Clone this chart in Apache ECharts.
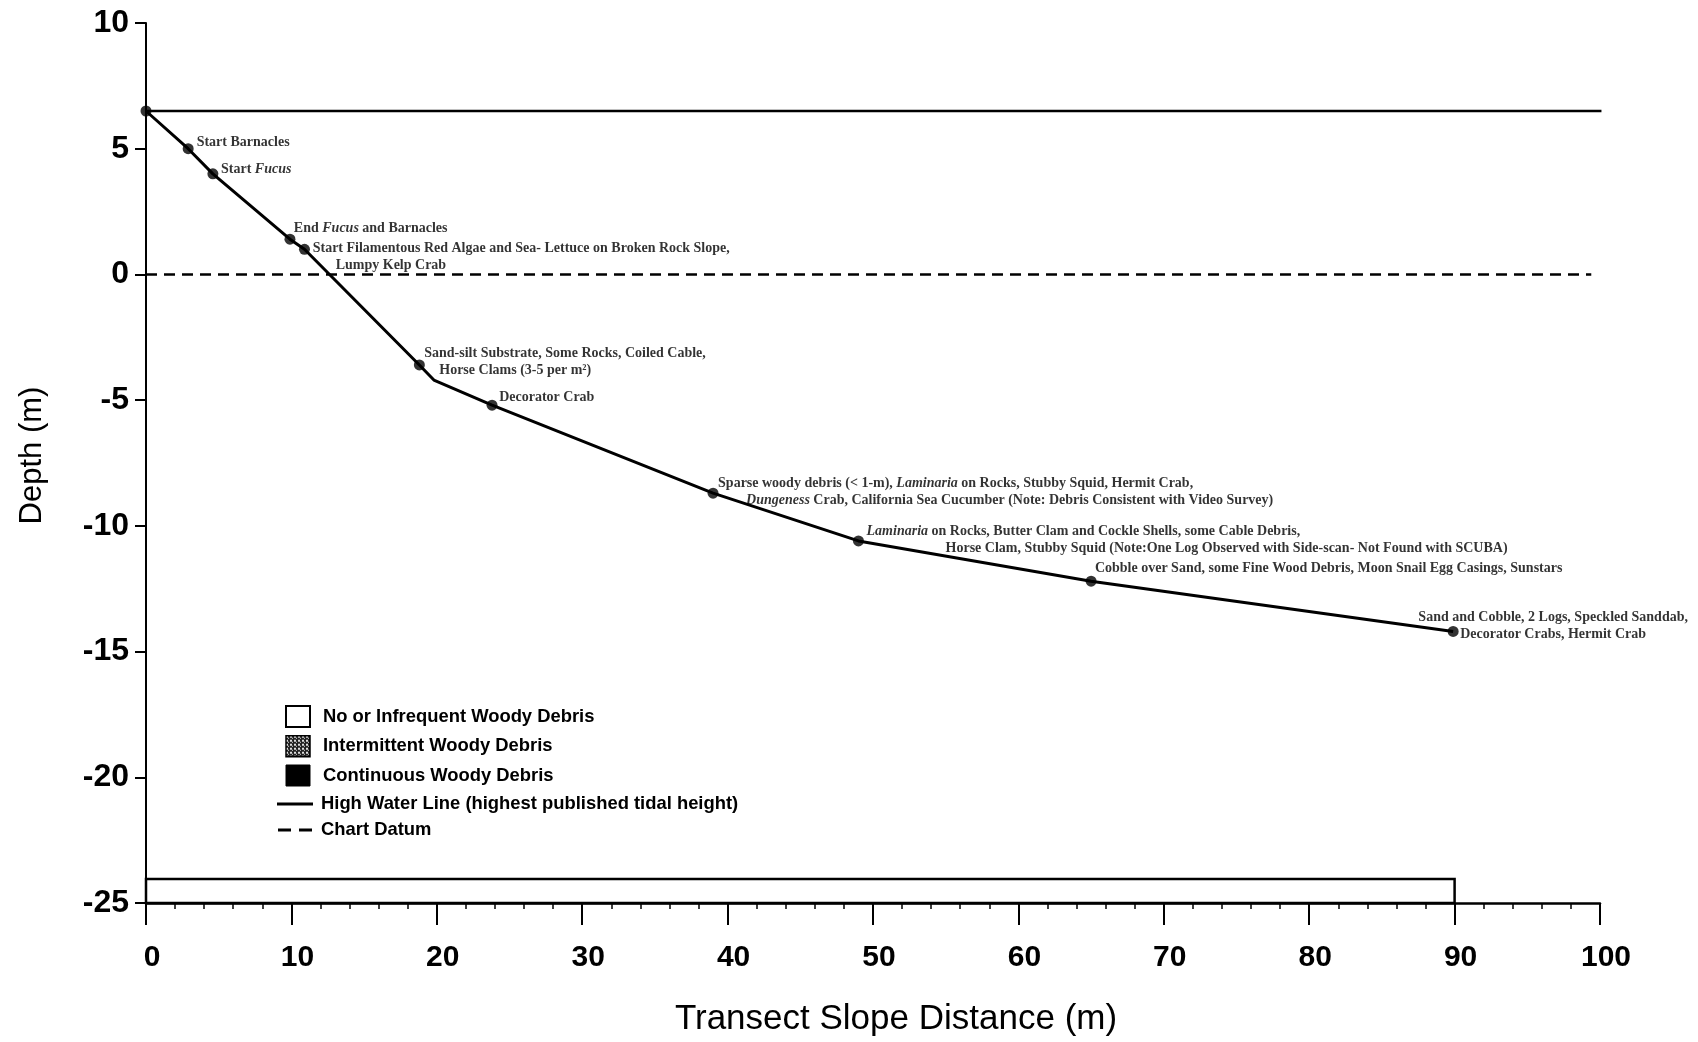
<!DOCTYPE html>
<html><head><meta charset="utf-8">
<script src="https://cdn.jsdelivr.net/npm/echarts@6/dist/echarts.min.js"></script>
<style>html,body{margin:0;padding:0;background:#fff}#c{width:1698px;height:1042px}</style>
</head><body><div id="c"></div>
<script>
// ---------------- data ----------------
const xTicks = [0, 10, 20, 30, 40, 50, 60, 70, 80, 90, 100];
const yTicks = [-25, -20, -15, -10, -5, 0, 5, 10];

const profileX = [0, 2.9, 4.6, 9.9, 10.9, 18.8, 19.8, 23.8, 39.0, 49.0, 65.0, 89.9];
const profileY = [6.5, 5.0, 4.0, 1.4, 1.0, -3.6, -4.2, -5.2, -8.7, -10.6, -12.2, -14.2];

const stationX = [0, 2.9, 4.6, 9.9, 10.9, 18.8, 23.8, 39.0, 49.0, 65.0, 89.9];
const stationY = [6.5, 5.0, 4.0, 1.4, 1.0, -3.6, -5.2, -8.7, -10.6, -12.2, -14.2];
const stationNotes = [
  "",
  "Start Barnacles",
  "Start _Fucus_",
  "End _Fucus_ and Barnacles",
  "Start Filamentous Red Algae and Sea- Lettuce on Broken Rock Slope,\nLumpy Kelp Crab",
  "Sand-silt Substrate, Some Rocks, Coiled Cable,\nHorse Clams (3-5 per m²)",
  "Decorator Crab",
  "Sparse woody debris (< 1-m), _Laminaria_ on Rocks, Stubby Squid, Hermit Crab,\n_Dungeness_ Crab, California Sea Cucumber (Note: Debris Consistent with Video Survey)",
  "_Laminaria_ on Rocks, Butter Clam and Cockle Shells, some Cable Debris,\nHorse Clam, Stubby Squid (Note:One Log Observed with Side-scan- Not Found with SCUBA)",
  "Cobble over Sand, some Fine Wood Debris, Moon Snail Egg Casings, Sunstars",
  "Sand and Cobble, 2 Logs, Speckled Sanddab,\nDecorator Crabs, Hermit Crab"
];

const highWaterLevel = 6.5;
const highWaterX = [0, 100.1];
const chartDatumLevel = 0;
const chartDatumX = [0, 99.4];

const debrisStart = [0];
const debrisEnd = [90];

const legendNames = [
  "No or Infrequent Woody Debris",
  "Intermittent Woody Debris",
  "Continuous Woody Debris",
  "High Water Line (highest published tidal height)",
  "Chart Datum"
];

// ---------------- styles ----------------
const DEBRIS_TOP = -24.05;
const labelOffsets = [[0,0],[3,-6.5],[2.6,-4.3],[-1.6,-10.8],[2.7,7.6],[-0.6,-3.3],[1.6,-7.5],[-0.5,-1.7],[2.6,-1.1],[-1.7,-13],[100,-5.5]];
const labelIndent = [0,0,0,0,23,15,0,28,79,0,0];
const centeredLabel = [false,false,false,false,false,false,false,false,false,false,true];

const serif = "'Liberation Serif','Times New Roman',serif";
const sans = "'Liberation Sans',Arial,sans-serif";

function richText(note, indent) {
  return note.split('\n').map((line, li) => {
    const parts = line.split('_');
    let s = (li > 0 && indent > 0) ? '{ind| }' : '';
    parts.forEach((p, k) => {
      if (p.length) s += (k % 2 ? '{i|' : '{n|') + p + '}';
    });
    return s;
  }).join('\n');
}

// pattern for intermittent debris
const pat = document.createElement('canvas');
pat.width = 4; pat.height = 4;
const pc = pat.getContext('2d');
pc.fillStyle = '#222'; pc.fillRect(0, 0, 4, 4);
pc.fillStyle = '#ddd'; pc.fillRect(0, 0, 2, 2); pc.fillRect(2, 2, 1, 1);

const stationData = stationX.map((x, i) => {
  const item = { value: [x, stationY[i]] };
  if (!stationNotes[i]) { item.label = { show: false }; return item; }
  const rich = {
    n: { fontFamily: serif, fontWeight: 'bold', fontSize: 14, lineHeight: 17, color: '#000' },
    i: { fontFamily: serif, fontWeight: 'bold', fontStyle: 'italic', fontSize: 14, lineHeight: 17, color: '#000' },
    ind: { width: labelIndent[i], fontSize: 14, lineHeight: 17 }
  };
  item.label = {
    show: true,
    position: centeredLabel[i] ? 'inside' : 'right',
    distance: 0,
    offset: labelOffsets[i],
    align: centeredLabel[i] ? 'center' : 'left',
    verticalAlign: 'middle',
    formatter: richText(stationNotes[i], labelIndent[i]),
    rich: rich
  };
  return item;
});

const solidIcon = 'path://M0,0 L36,0 L36,3 L0,3 Z';
const dashIcon = 'path://M0,0 L13,0 L13,3 L0,3 Z M21,0 L34,0 L34,3 L21,3 Z';

const chart = echarts.init(document.getElementById('c'), null, { renderer: 'canvas' });
chart.setOption({
  animation: false,
  backgroundColor: '#fff',
  grid: { left: 146, right: 98, top: 23, bottom: 138, containLabel: false },
  legend: [
    {
      orient: 'vertical', left: 280, top: 700,
      itemWidth: 24, itemHeight: 21, itemGap: 7,
      selectedMode: false,
      textStyle: { fontFamily: sans, fontWeight: 'bold', fontSize: 18.4, color: '#000', padding: [0, 0, 0, 8], lineHeight: 20 },
      data: [
        { name: legendNames[0], icon: 'rect', itemStyle: { color: '#fff', borderColor: '#000', borderWidth: 2 } },
        { name: legendNames[1], icon: 'rect', itemStyle: { color: { image: pat, repeat: 'repeat' }, borderColor: '#000', borderWidth: 1.5 } },
        { name: legendNames[2], icon: 'rect', itemStyle: { color: '#000', borderColor: '#000', borderWidth: 1 } }
      ]
    },
    {
      orient: 'vertical', left: 272, top: 789,
      itemWidth: 36, itemHeight: 3, itemGap: 6,
      selectedMode: false,
      textStyle: { fontFamily: sans, fontWeight: 'bold', fontSize: 18.4, color: '#000', padding: [0, 0, 0, 3], lineHeight: 20 },
      data: [
        { name: legendNames[3], icon: solidIcon, itemStyle: { color: '#000', borderWidth: 0 }, lineStyle: { width: 0 } },
        { name: legendNames[4], icon: dashIcon, itemStyle: { color: '#000', borderWidth: 0 }, lineStyle: { width: 0 } }
      ]
    }
  ],
  xAxis: {
    type: 'value',
    min: xTicks[0], max: xTicks[xTicks.length - 1], interval: xTicks[1] - xTicks[0],
    name: 'Transect Slope Distance (m)',
    nameLocation: 'middle', nameGap: 99,
    nameTextStyle: { fontFamily: sans, fontSize: 35, color: '#000', padding: [0, 0, 0, 46] },
    axisLine: { show: true, onZero: false, lineStyle: { color: '#000', width: 2.5 } },
    axisTick: { show: true, length: 22, lineStyle: { color: '#000', width: 2 } },
    minorTick: { show: true, splitNumber: 5, length: 6, lineStyle: { color: '#000', width: 1.5 } },
    axisLabel: { margin: 40, fontFamily: sans, fontWeight: 'bold', fontSize: 30, color: '#000', padding: [0, 0, 0, 12] },
    splitLine: { show: false }
  },
  yAxis: {
    type: 'value',
    min: yTicks[0], max: yTicks[yTicks.length - 1], interval: yTicks[1] - yTicks[0],
    name: 'Depth (m)',
    nameLocation: 'middle', nameGap: 98, nameRotate: 90,
    nameTextStyle: { fontFamily: sans, fontSize: 31, color: '#000', padding: [0, 0, 0, 15] },
    axisLine: { show: true, onZero: false, lineStyle: { color: '#000', width: 2 } },
    axisTick: { show: true, length: 11, lineStyle: { color: '#000', width: 2 } },
    axisLabel: { margin: 17, fontFamily: sans, fontWeight: 'bold', fontSize: 32, color: '#000' },
    splitLine: { show: false }
  },
  series: [
    {
      name: legendNames[0],
      type: 'custom',
      clip: false,
      z: 1,
      itemStyle: { color: '#fff', borderColor: '#000', borderWidth: 2 },
      data: debrisStart.map((s, i) => [s, debrisEnd[i]]),
      renderItem: function (params, api) {
        const a = api.coord([api.value(0), yTicks[0]]);
        const b = api.coord([api.value(1), DEBRIS_TOP]);
        return {
          type: 'rect',
          shape: { x: a[0], y: b[1], width: b[0] - a[0], height: a[1] - b[1] },
          style: { fill: '#fff', stroke: '#000', lineWidth: 2.5 }
        };
      }
    },
    { name: legendNames[1], type: 'custom', data: [], renderItem: function () { return null; },
      itemStyle: { color: { image: pat, repeat: 'repeat' } } },
    { name: legendNames[2], type: 'custom', data: [], renderItem: function () { return null; },
      itemStyle: { color: '#000' } },
    {
      name: legendNames[3],
      type: 'line', symbol: 'none', clip: false, z: 2,
      lineStyle: { color: '#000', width: 2.5 },
      itemStyle: { color: '#000' },
      data: highWaterX.map(x => [x, highWaterLevel])
    },
    {
      name: legendNames[4],
      type: 'line', symbol: 'none', clip: false, z: 2,
      lineStyle: { color: '#000', width: 2.5, type: [11, 7] },
      itemStyle: { color: '#000' },
      data: chartDatumX.map(x => [x, chartDatumLevel])
    },
    {
      name: 'Profile',
      type: 'line', symbol: 'none', clip: false, z: 3,
      lineStyle: { color: '#000', width: 3 },
      data: profileX.map((x, i) => [x, profileY[i]])
    },
    {
      name: 'Stations',
      type: 'scatter', symbol: 'circle', symbolSize: 11, clip: false, z: 4,
      itemStyle: { color: '#000' },
      data: stationData
    }
  ]
});
</script>
</body></html>
